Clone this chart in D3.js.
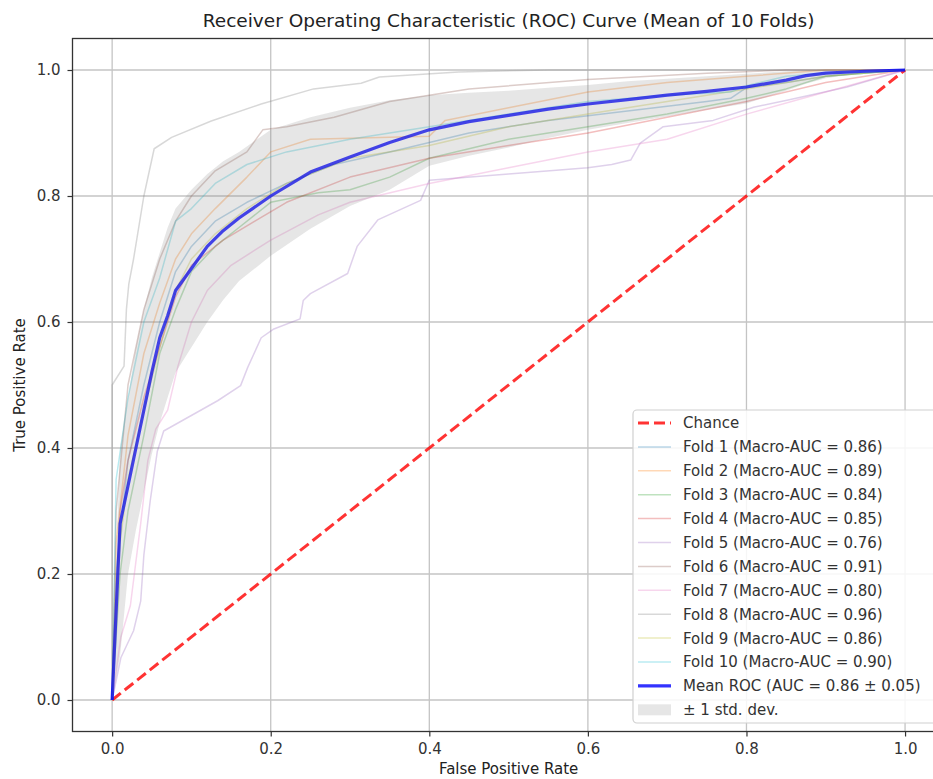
<!DOCTYPE html>
<html>
<head>
<meta charset="utf-8">
<script src="https://cdn.jsdelivr.net/npm/d3@7"></script>
<style>
  html, body { margin: 0; padding: 0; background: #fff; }
  svg { display: block; }
  text { font-family: "DejaVu Sans", sans-serif; }
</style>
</head>
<body>
<svg id="chart" width="933" height="779"></svg>
<script>
// ---------------- DATA ----------------
const titleText = "Receiver Operating Characteristic (ROC) Curve (Mean of 10 Folds)";
const xLabel = "False Positive Rate";
const yLabel = "True Positive Rate";
const xTicks = [0, 0.2, 0.4, 0.6, 0.8, 1.0];
const yTicks = [0, 0.2, 0.4, 0.6, 0.8, 1.0];

const foldNames = ["Fold 1", "Fold 2", "Fold 3", "Fold 4", "Fold 5", "Fold 6", "Fold 7", "Fold 8", "Fold 9", "Fold 10"];
const foldAucs = [0.86, 0.89, 0.84, 0.85, 0.76, 0.91, 0.80, 0.96, 0.86, 0.90];
const foldColors = ["#1f77b4", "#ff7f0e", "#2ca02c", "#d62728", "#9467bd", "#8c564b", "#e377c2", "#7f7f7f", "#bcbd22", "#17becf"];

const fold1 = [[0,0],[0.005,0.2],[0.02,0.38],[0.04,0.5],[0.06,0.6],[0.08,0.68],[0.1,0.72],[0.13,0.76],[0.17,0.79],[0.22,0.82],[0.28,0.85],[0.35,0.87],[0.45,0.9],[0.55,0.92],[0.65,0.935],[0.75,0.95],[0.78,0.955],[0.8,0.972],[0.85,0.98],[0.9,0.99],[1,1]];
const fold2 = [[0,0],[0.005,0.25],[0.02,0.42],[0.04,0.55],[0.06,0.63],[0.08,0.7],[0.1,0.74],[0.13,0.78],[0.17,0.83],[0.2,0.87],[0.25,0.89],[0.4,0.895],[0.42,0.92],[0.5,0.94],[0.6,0.965],[0.7,0.98],[0.8,0.99],[0.9,1],[1,1]];
const fold3 = [[0,0],[0.01,0.2],[0.02,0.3],[0.04,0.42],[0.06,0.55],[0.08,0.62],[0.1,0.68],[0.13,0.72],[0.16,0.75],[0.2,0.79],[0.26,0.805],[0.3,0.81],[0.35,0.83],[0.4,0.86],[0.5,0.89],[0.6,0.91],[0.7,0.93],[0.8,0.955],[0.85,0.97],[0.9,0.99],[1,1]];
const fold4 = [[0,0],[0.01,0.3],[0.02,0.38],[0.04,0.48],[0.06,0.56],[0.08,0.64],[0.1,0.69],[0.14,0.73],[0.18,0.76],[0.22,0.79],[0.3,0.83],[0.4,0.86],[0.5,0.88],[0.6,0.9],[0.7,0.925],[0.8,0.95],[0.9,0.98],[1,1]];
const fold5 = [[0,0],[0.011,0.067],[0.027,0.11],[0.036,0.157],[0.04,0.23],[0.048,0.316],[0.057,0.395],[0.065,0.427],[0.133,0.475],[0.162,0.499],[0.171,0.528],[0.188,0.575],[0.204,0.589],[0.237,0.605],[0.241,0.634],[0.25,0.645],[0.297,0.677],[0.309,0.72],[0.335,0.762],[0.389,0.793],[0.4,0.825],[0.5,0.835],[0.6,0.845],[0.63,0.85],[0.654,0.857],[0.666,0.884],[0.695,0.91],[0.758,0.92],[0.809,0.941],[0.851,0.952],[0.927,0.973],[1,1]];
const fold6 = [[0,0],[0.005,0.3],[0.02,0.5],[0.04,0.62],[0.06,0.7],[0.08,0.76],[0.1,0.8],[0.13,0.84],[0.17,0.87],[0.19,0.905],[0.22,0.91],[0.28,0.925],[0.35,0.95],[0.45,0.97],[0.6,0.985],[0.75,0.995],[0.85,1],[1,1]];
const fold7 = [[0,0],[0.011,0.1],[0.023,0.15],[0.036,0.28],[0.045,0.38],[0.055,0.43],[0.07,0.46],[0.083,0.53],[0.1,0.6],[0.12,0.65],[0.15,0.69],[0.2,0.73],[0.26,0.77],[0.3,0.79],[0.4,0.82],[0.5,0.845],[0.6,0.87],[0.7,0.89],[0.8,0.93],[0.9,0.965],[1,1]];
const fold8 = [[0,0],[0,0.5],[0.015,0.53],[0.018,0.62],[0.021,0.66],[0.027,0.7],[0.04,0.8],[0.053,0.875],[0.075,0.893],[0.125,0.919],[0.188,0.946],[0.254,0.97],[0.314,0.979],[0.337,0.989],[0.437,0.997],[0.55,1],[1,1]];
const fold9 = [[0,0],[0.01,0.25],[0.02,0.35],[0.04,0.46],[0.06,0.56],[0.08,0.65],[0.1,0.7],[0.13,0.74],[0.17,0.78],[0.22,0.82],[0.3,0.86],[0.4,0.88],[0.5,0.91],[0.6,0.93],[0.7,0.95],[0.8,0.97],[0.9,0.99],[1,1]];
const fold10 = [[0,0],[0.005,0.35],[0.02,0.48],[0.04,0.6],[0.06,0.67],[0.08,0.76],[0.1,0.78],[0.13,0.82],[0.17,0.85],[0.22,0.87],[0.3,0.89],[0.4,0.91],[0.5,0.93],[0.6,0.95],[0.7,0.96],[0.78,0.965],[0.8,0.975],[0.85,0.99],[0.9,0.995],[1,1]];
const folds = [fold1, fold2, fold3, fold4, fold5, fold6, fold7, fold8, fold9, fold10];

const meanFpr = [0,0.01,0.02,0.03,0.04,0.05,0.06,0.07,0.08,0.1,0.12,0.14,0.16,0.2,0.25,0.3,0.35,0.4,0.45,0.5,0.55,0.6,0.65,0.7,0.75,0.8,0.85,0.875,0.9,0.95,1];
const meanTpr = [0,0.28,0.34,0.40,0.46,0.52,0.575,0.61,0.65,0.685,0.72,0.745,0.765,0.80,0.838,0.862,0.885,0.905,0.918,0.928,0.938,0.946,0.953,0.96,0.966,0.973,0.984,0.991,0.995,0.998,1];
const stdUpper = [0.05,0.40,0.48,0.56,0.62,0.67,0.71,0.75,0.78,0.81,0.835,0.855,0.87,0.905,0.925,0.94,0.952,0.96,0.964,0.967,0.972,0.976,0.982,0.986,0.99,0.994,0.998,1,1,1,1];
const stdLower = [0,0.07,0.2,0.27,0.33,0.39,0.44,0.48,0.52,0.56,0.60,0.635,0.665,0.705,0.748,0.784,0.81,0.848,0.864,0.877,0.892,0.905,0.916,0.926,0.937,0.947,0.967,0.978,0.987,0.996,1];

const chanceLine = [[0,0],[1,1]];
const meanLabel = "Mean ROC (AUC = 0.86 \u00b1 0.05)";
const stdLabel = "\u00b1 1 std. dev.";
const chanceLabel = "Chance";

// ---------------- CHART ----------------
const svg = d3.select("#chart");
const pLeft = 72.5, pRight = 944.7, pTop = 38.5, pBottom = 731.5;
const x = d3.scaleLinear().domain([-0.05, 1.05]).range([pLeft, pRight]);
const y = d3.scaleLinear().domain([-0.05, 1.05]).range([pBottom, pTop]);

svg.append("defs").append("clipPath").attr("id", "plotclip")
  .append("rect").attr("x", pLeft).attr("y", pTop).attr("width", pRight - pLeft).attr("height", pBottom - pTop);

// grid
const grid = svg.append("g");
grid.selectAll("line.gx").data(xTicks).join("line").attr("class", "gx")
  .attr("x1", d => x(d)).attr("x2", d => x(d)).attr("y1", pTop).attr("y2", pBottom)
  .attr("stroke", "#c4c4c4").attr("stroke-width", 1.3);
grid.selectAll("line.gy").data(yTicks).join("line").attr("class", "gy")
  .attr("y1", d => y(d)).attr("y2", d => y(d)).attr("x1", pLeft).attr("x2", pRight)
  .attr("stroke", "#c4c4c4").attr("stroke-width", 1.3);

const plot = svg.append("g").attr("clip-path", "url(#plotclip)");
const line = d3.line().x(d => x(d[0])).y(d => y(d[1]));

// chance
plot.append("path").datum(chanceLine).attr("d", line)
  .attr("fill", "none").attr("stroke", "red").attr("stroke-opacity", 0.8)
  .attr("stroke-width", 3).attr("stroke-dasharray", "11,5");

// folds
folds.forEach((f, i) => {
  plot.append("path").datum(f).attr("d", line)
    .attr("fill", "none").attr("stroke", foldColors[i]).attr("stroke-opacity", 0.3)
    .attr("stroke-width", 1.5).attr("stroke-linejoin", "round");
});

// mean
const meanPts = meanFpr.map((v, i) => [v, meanTpr[i]]);
plot.append("path").datum(meanPts).attr("d", line)
  .attr("fill", "none").attr("stroke", "blue").attr("stroke-opacity", 0.8)
  .attr("stroke-width", 3.2).attr("stroke-linejoin", "round");

// std band
const area = d3.area()
  .x((d, i) => x(meanFpr[i]))
  .y0((d, i) => y(stdLower[i]))
  .y1((d, i) => y(stdUpper[i]));
plot.append("path").datum(meanFpr).attr("d", area)
  .attr("fill", "grey").attr("fill-opacity", 0.2);

// axes
const xAxis = d3.axisBottom(x).tickValues(xTicks).tickFormat(d3.format(".1f")).tickSize(5).tickPadding(6.5);
const yAxis = d3.axisLeft(y).tickValues(yTicks).tickFormat(d3.format(".1f")).tickSize(5).tickPadding(7);
const gx = svg.append("g").attr("transform", `translate(0,${pBottom})`).call(xAxis);
const gy = svg.append("g").attr("transform", `translate(${pLeft},0)`).call(yAxis);
[gx, gy].forEach(g => {
  g.select(".domain").remove();
  g.selectAll(".tick line").attr("stroke", "#333").attr("stroke-width", 1.2);
  g.selectAll(".tick text").attr("fill", "#333").style("font-size", "15px").style("font-family", "DejaVu Sans");
});

// frame
svg.append("rect").attr("x", pLeft).attr("y", pTop).attr("width", pRight - pLeft).attr("height", pBottom - pTop)
  .attr("fill", "none").attr("stroke", "#333").attr("stroke-width", 1.3);

// title & labels
svg.append("text").attr("x", (pLeft + pRight) / 2).attr("y", 27).attr("text-anchor", "middle")
  .style("font-size", "18.5px").attr("fill", "#222").text(titleText);
svg.append("text").attr("x", (pLeft + pRight) / 2).attr("y", 774).attr("text-anchor", "middle")
  .style("font-size", "15px").attr("fill", "#222").text(xLabel);
svg.append("text").attr("transform", `translate(25,${(pTop + pBottom) / 2}) rotate(-90)`).attr("text-anchor", "middle")
  .style("font-size", "15px").attr("fill", "#222").text(yLabel);

// legend
const lg = svg.append("g");
lg.append("rect").attr("x", 633).attr("y", 410).attr("width", 305).attr("height", 313).attr("rx", 4)
  .attr("fill", "white").attr("fill-opacity", 0.85).attr("stroke", "#d0d0d0").attr("stroke-width", 1.2);
const rowY = i => 423 + i * 23.9;
const hx0 = 638, hx1 = 671, tx = 683;
const entries = [];
entries.push({label: chanceLabel, type: "chance"});
foldNames.forEach((n, i) => entries.push({label: `${n} (Macro-AUC = ${foldAucs[i].toFixed(2)})`, type: "fold", color: foldColors[i]}));
entries.push({label: meanLabel, type: "mean"});
entries.push({label: stdLabel, type: "std"});
entries.forEach((e, i) => {
  const cy = rowY(i);
  if (e.type === "chance") {
    lg.append("line").attr("x1", hx0).attr("x2", hx1).attr("y1", cy).attr("y2", cy)
      .attr("stroke", "red").attr("stroke-opacity", 0.8).attr("stroke-width", 3).attr("stroke-dasharray", "11,5");
  } else if (e.type === "fold") {
    lg.append("line").attr("x1", hx0).attr("x2", hx1).attr("y1", cy).attr("y2", cy)
      .attr("stroke", e.color).attr("stroke-opacity", 0.3).attr("stroke-width", 1.5);
  } else if (e.type === "mean") {
    lg.append("line").attr("x1", hx0).attr("x2", hx1).attr("y1", cy).attr("y2", cy)
      .attr("stroke", "blue").attr("stroke-opacity", 0.8).attr("stroke-width", 3.2);
  } else {
    lg.append("rect").attr("x", hx0).attr("y", cy - 5.5).attr("width", hx1 - hx0).attr("height", 11)
      .attr("fill", "grey").attr("fill-opacity", 0.2);
  }
  lg.append("text").attr("x", tx).attr("y", cy).attr("dy", "0.36em")
    .style("font-size", "15px").attr("fill", "#333").text(e.label);
});
</script>
</body>
</html>
